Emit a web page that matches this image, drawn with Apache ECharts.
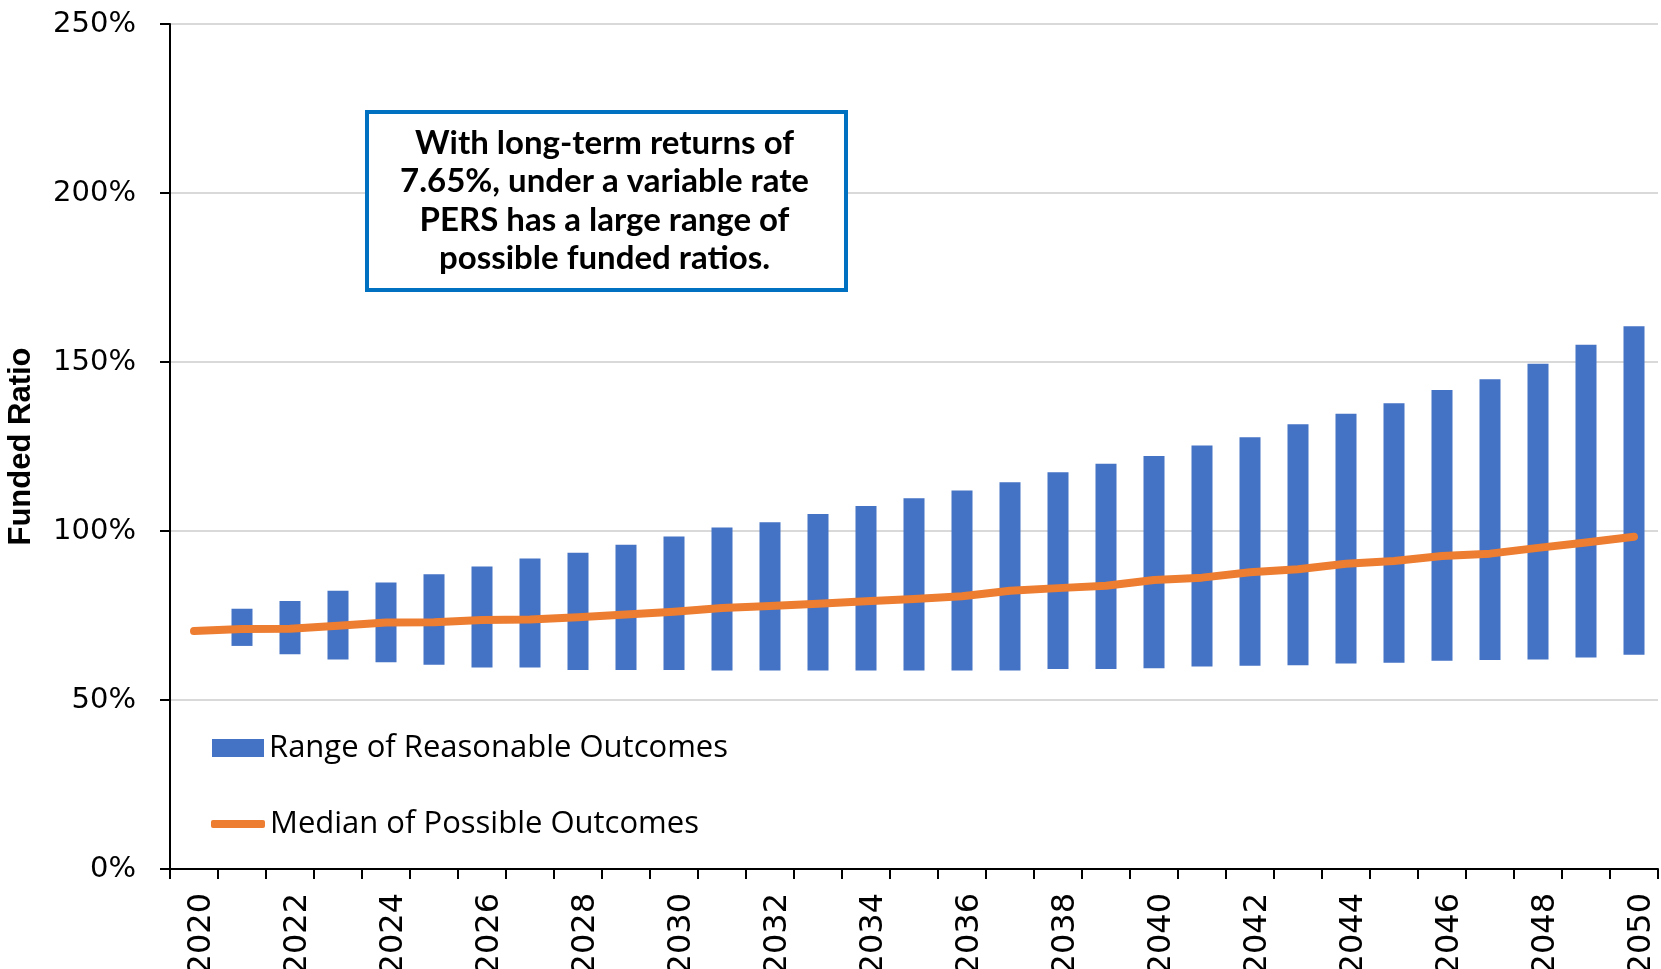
<!DOCTYPE html>
<html>
<head>
<meta charset="utf-8">
<script src="https://cdn.jsdelivr.net/npm/echarts@6/dist/echarts.min.js"></script>
<style>
  html, body { margin: 0; padding: 0; background: #fff; }
  #chart { width: 1661px; height: 969px; }
</style>
</head>
<body>
<div id="chart"></div>
<script>
// categories
const years = ['2020', '2021', '2022', '2023', '2024', '2025', '2026', '2027', '2028', '2029', '2030',
  '2031', '2032', '2033', '2034', '2035', '2036', '2037', '2038', '2039', '2040',
  '2041', '2042', '2043', '2044', '2045', '2046', '2047', '2048', '2049', '2050'];

// range of reasonable outcomes (low / high), no bar for 2020
const rangeLow = [null, 66.0, 63.5, 62.0, 61.2, 60.4, 59.6, 59.6, 58.9, 58.9, 58.9,
  58.7, 58.7, 58.7, 58.7, 58.7, 58.7, 58.7, 59.2, 59.2, 59.4,
  59.9, 60.1, 60.3, 60.8, 61.0, 61.6, 61.8, 62.0, 62.6, 63.4];
const rangeHigh = [null, 77.0, 79.3, 82.3, 84.8, 87.2, 89.5, 91.9, 93.6, 95.9, 98.4,
  101.0, 102.6, 105.0, 107.4, 109.7, 112.0, 114.4, 117.4, 119.9, 122.2,
  125.3, 127.7, 131.6, 134.7, 137.8, 141.7, 144.9, 149.5, 155.1, 160.6];

// median of possible outcomes
const median = [70.4, 71.0, 71.1, 72.0, 72.9, 73.0, 73.7, 73.8, 74.5, 75.3, 76.1,
  77.2, 77.8, 78.5, 79.2, 79.9, 80.7, 82.3, 83.1, 83.8, 85.5,
  86.2, 87.8, 88.7, 90.3, 91.1, 92.6, 93.3, 95.0, 96.6, 98.3];

const yTicks = [0, 50, 100, 150, 200, 250];

const noteLines = [
  'With long-term returns of',
  '7.65%, under a variable rate',
  'PERS has a large range of',
  'possible funded ratios.'
];

const legendText = { fontFamily: 'Open Sans', fontSize: 31, color: '#000', lineHeight: 34 };

const chart = echarts.init(document.getElementById('chart'));

chart.setOption({
  animation: false,
  grid: { left: 170, right: 3, top: 24, bottom: 100, containLabel: false, outerBoundsMode: 'none' },
  legend: [
    {
      left: 207,
      top: 726,
      itemWidth: 52,
      itemHeight: 18,
      textStyle: legendText,
      data: [{ name: 'Range of Reasonable Outcomes', icon: 'rect' }]
    },
    {
      left: 206,
      top: 802,
      itemWidth: 54,
      itemHeight: 8,
      textStyle: legendText,
      data: [{ name: 'Median of Possible Outcomes', icon: 'roundRect' }]
    }
  ],
  xAxis: {
    type: 'category',
    data: years,
    boundaryGap: true,
    axisLine: { lineStyle: { color: '#000', width: 2 } },
    axisTick: { show: true, inside: false, length: 10, interval: 0, lineStyle: { color: '#000', width: 2 } },
    axisLabel: {
      interval: 1,
      rotate: 90,
      margin: 24,
      formatter: v => '{yr|' + v + '}',
      rich: {
        yr: {
          padding: [16, 0, 0, 0],
          fontFamily: 'DejaVu Sans',
          fontSize: 32,
          color: '#000'
        }
      },
      fontFamily: 'DejaVu Sans',
      fontSize: 32,
      color: '#000'
    }
  },
  yAxis: {
    type: 'value',
    min: yTicks[0],
    max: yTicks[yTicks.length - 1],
    interval: 50,
    name: 'Funded Ratio',
    nameLocation: 'middle',
    nameRotate: 90,
    nameGap: 133,
    nameTextStyle: { fontFamily: 'Liberation Sans', fontWeight: 'bold', fontSize: 31, color: '#000' },
    axisLine: { show: true, lineStyle: { color: '#000', width: 2 } },
    axisTick: { show: true, length: 10, lineStyle: { color: '#000', width: 2 } },
    axisLabel: {
      margin: 34,
      fontFamily: 'DejaVu Sans',
      fontSize: 29,
      color: '#000',
      formatter: v => v + '%'
    },
    splitLine: { lineStyle: { color: '#d9d9d9', width: 2 } }
  },
  series: [
    {
      name: 'base',
      type: 'bar',
      stack: 'range',
      barWidth: 21,
      silent: true,
      itemStyle: { color: 'rgba(0,0,0,0)' },
      data: rangeLow
    },
    {
      name: 'Range of Reasonable Outcomes',
      type: 'bar',
      stack: 'range',
      barWidth: 21,
      itemStyle: { color: '#4472C4' },
      data: rangeHigh.map((h, i) => (h == null ? null : +(h - rangeLow[i]).toFixed(1)))
    },
    {
      name: 'Median of Possible Outcomes',
      type: 'line',
      symbol: 'none',
      z: 5,
      lineStyle: { color: '#ED7D31', width: 8, cap: 'round', join: 'round' },
      itemStyle: { color: '#ED7D31' },
      data: median
    }
  ],
  graphic: [
    {
      type: 'rect',
      left: 365,
      top: 110,
      shape: { width: 479, height: 178 },
      style: { fill: '#fff', stroke: '#0070C0', lineWidth: 4 },
      z: 10
    },
    {
      type: 'text',
      x: 604.5,
      y: 124,
      z: 11,
      style: {
        text: noteLines.join('\n'),
        align: 'center',
        verticalAlign: 'top',
        fontFamily: 'Lato',
        fontWeight: 'bold',
        fontSize: 33,
        lineHeight: 38.5,
        fill: '#000'
      }
    }
  ]
});
</script>
</body>
</html>
